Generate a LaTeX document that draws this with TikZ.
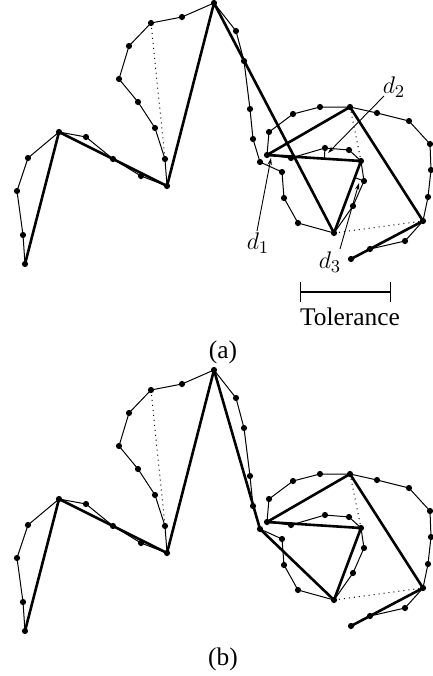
\documentclass[tikz,border=0pt]{standalone}
\usepackage{fontspec}
\setmainfont{Liberation Serif}
\usetikzlibrary{arrows.meta,calc}
\newcommand{\pointset}[1]{%
  \foreach \n/\px/\py in {0/25/264, 1/23/235, 2/17/191, 3/28/158, 4/59/132,
      5/86/137, 6/113/159, 7/141/176, 8/167/186, 9/165/159, 10/155/128,
      11/138/102, 12/119/79, 13/129/46, 14/151/23, 15/182/17, 16/214/3,
      17/236/31, 18/244/61, 19/250/109, 20/253/139, 21/260/162, 22/282/172,
      23/284/198, 24/298/223, 25/334/233, 26/353/206, 27/364/181, 28/361/161,
      29/349/150, 30/325/148, 31/291/158, 32/267/155, 33/269/132, 34/293/114,
      35/320/107, 36/350/107, 37/377/113, 38/409/121, 39/430/144, 40/431/170,
      41/428/197, 42/423/221, 43/405/241, 44/370/249, 45/351/259}
    \coordinate (#1\n) at (\px,\py);
}
\tikzset{
  rdpthin/.style={line width=0.5pt, line join=round},
  rdpthick/.style={line width=1.3pt, line join=round},
  rdpgap/.style={line width=0.5pt, dotted},
  rdpptr/.style={line width=0.45pt, -{Stealth[length=3.5pt,width=2.2pt]}},
  rdptick/.style={line width=0.5pt},
  rdpbar/.style={line width=0.7pt, {Bar[width=10pt]}-{Bar[width=10pt]}}
}
\begin{document}
\begin{tikzpicture}[x=0.5pt, y=-0.5pt, font=\fontsize{12.7}{15}\selectfont]
  \useasboundingbox (0,0) rectangle (433,676);
  \pointset{a}
  \begin{scope}[shift={(0,367)}]
    \pointset{b}
  \end{scope}
  \foreach \p in {a,b} {
    \draw[rdpthin] (\p0) \foreach \i in {1,...,45} {-- (\p\i)};
    \draw[rdpgap] (\p14) -- (\p9) (\p36) -- (\p28) (\p25) -- (\p42);
  }
  \draw[rdpthick] (a0) -- (a4) -- (a8) -- (a16) -- (a25) -- (a28) -- (a32)
    -- (a36) -- (a42) -- (a45);
  \draw[rdpthick] (b0) -- (b4) -- (b8) -- (b16) -- (b21) -- (b25) -- (b28)
    -- (b32) -- (b36) -- (b42) -- (b45);
  \foreach \p in {a,b} {
    \foreach \i in {0,...,45} \fill (\p\i) circle[radius=1.55pt];
  }

  \draw[rdptick] (a30) -- ($(a32)!(a30)!(a28)$);
  \draw[rdptick] (a27) -- ($(a25)!(a27)!(a28)$);
  \node (d1) at (258,243) {$d_1$};
  \node (d2) at (394,87) {$d_2$};
  \node (d3) at (330,262) {$d_3$};
  \coordinate (d1tip) at (271,158);
  \coordinate (d2tip) at (328,153);
  \coordinate (d3tip) at (359,183);
  \draw[rdpptr] (257,231) -- (d1tip);
  \draw[rdpptr] (384,96) -- (d2tip);
  \draw[rdpptr] (340,249) -- (d3tip);

  \coordinate (tolL) at (300,292);
  \coordinate (tolR) at (391,292);
  \draw[rdpbar] (tolL) -- (tolR);
  \node (tol) at (350,317) {Tolerance};
  \node (capa) at (223,352) {(a)};
  \node (capb) at (223,659) {(b)};
\end{tikzpicture}
\end{document}
